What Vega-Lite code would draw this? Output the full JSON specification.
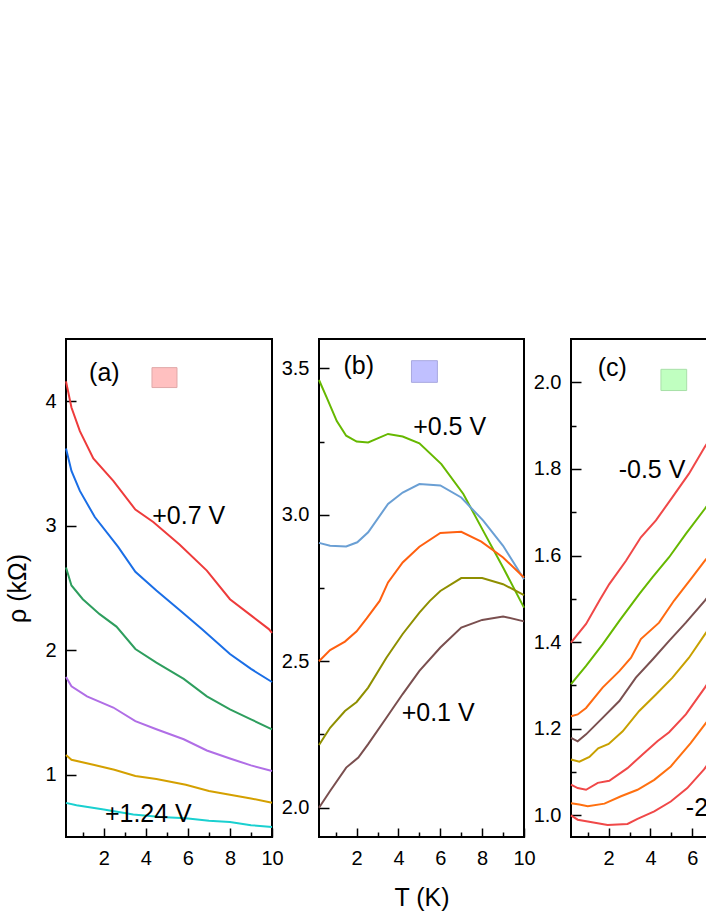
{
  "$schema": "https://vega.github.io/schema/vega-lite/v6.json",
  "padding": {"left": 4, "top": 338, "right": 0, "bottom": 0},
  "background": "white",
  "bounds": "flush",
  "spacing": 47,
  "config": {
    "font": "Liberation Sans",
    "view": {"stroke": "black", "strokeWidth": 2},
    "axis": {
      "domain": false, "grid": false, "labelFlush": false,
      "labelFont": "Liberation Sans", "labelFontSize": 20, "labelColor": "black",
      "titleFont": "Liberation Sans", "titleFontSize": 25, "titleFontWeight": "normal", "titleColor": "black",
      "tickColor": "black", "tickWidth": 1.5
    },
    "text": {"font": "Liberation Sans", "fontSize": 25, "baseline": "middle", "color": "black"}
  },
  "resolve": {"scale": {"color": "independent"}},
  "datasets": {
    "a_lines": [
      {"curve":"a1","T":0.2,"v":4.16},{"curve":"a1","T":0.46,"v":3.95},{"curve":"a1","T":0.86,"v":3.76},{"curve":"a1","T":1.5,"v":3.54},{"curve":"a1","T":2.45,"v":3.36},{"curve":"a1","T":3.5,"v":3.13},{"curve":"a1","T":4.35,"v":3.03},{"curve":"a1","T":5.6,"v":2.85},{"curve":"a1","T":6.9,"v":2.64},{"curve":"a1","T":8.0,"v":2.41},{"curve":"a1","T":9.0,"v":2.28},{"curve":"a1","T":9.85,"v":2.17},{"curve":"a1","T":10,"v":2.14},
      {"curve":"a2","T":0.2,"v":3.62},{"curve":"a2","T":0.46,"v":3.44},{"curve":"a2","T":0.86,"v":3.28},{"curve":"a2","T":1.57,"v":3.07},{"curve":"a2","T":2.68,"v":2.83},{"curve":"a2","T":3.5,"v":2.63},{"curve":"a2","T":4.5,"v":2.48},{"curve":"a2","T":5.63,"v":2.32},{"curve":"a2","T":6.66,"v":2.17},{"curve":"a2","T":8.0,"v":1.97},{"curve":"a2","T":9.0,"v":1.85},{"curve":"a2","T":10,"v":1.745},
      {"curve":"a3","T":0.2,"v":2.665},{"curve":"a3","T":0.46,"v":2.52},{"curve":"a3","T":1.0,"v":2.41},{"curve":"a3","T":1.8,"v":2.29},{"curve":"a3","T":2.6,"v":2.19},{"curve":"a3","T":3.5,"v":2.01},{"curve":"a3","T":4.5,"v":1.9},{"curve":"a3","T":5.8,"v":1.77},{"curve":"a3","T":6.9,"v":1.63},{"curve":"a3","T":8.0,"v":1.525},{"curve":"a3","T":9.0,"v":1.445},{"curve":"a3","T":10,"v":1.365},
      {"curve":"a4","T":0.2,"v":1.785},{"curve":"a4","T":0.46,"v":1.71},{"curve":"a4","T":1.2,"v":1.63},{"curve":"a4","T":2.45,"v":1.54},{"curve":"a4","T":3.5,"v":1.43},{"curve":"a4","T":4.5,"v":1.365},{"curve":"a4","T":5.8,"v":1.285},{"curve":"a4","T":6.9,"v":1.195},{"curve":"a4","T":8.0,"v":1.13},{"curve":"a4","T":9.0,"v":1.075},{"curve":"a4","T":10,"v":1.03},
      {"curve":"a5","T":0.2,"v":1.158},{"curve":"a5","T":0.46,"v":1.12},{"curve":"a5","T":1.5,"v":1.08},{"curve":"a5","T":2.5,"v":1.04},{"curve":"a5","T":3.5,"v":0.99},{"curve":"a5","T":4.5,"v":0.965},{"curve":"a5","T":5.9,"v":0.92},{"curve":"a5","T":7.0,"v":0.87},{"curve":"a5","T":8.0,"v":0.84},{"curve":"a5","T":9.0,"v":0.81},{"curve":"a5","T":10,"v":0.775},
      {"curve":"a6","T":0.2,"v":0.774},{"curve":"a6","T":0.7,"v":0.755},{"curve":"a6","T":2.0,"v":0.72},{"curve":"a6","T":3.4,"v":0.68},{"curve":"a6","T":4.7,"v":0.66},{"curve":"a6","T":5.9,"v":0.65},{"curve":"a6","T":7.0,"v":0.63},{"curve":"a6","T":8.0,"v":0.62},{"curve":"a6","T":9.0,"v":0.595},{"curve":"a6","T":10,"v":0.58}
    ],
    "b_lines": [
      {"curve":"b1","T":0.2,"v":3.46},{"curve":"b1","T":0.57,"v":3.4},{"curve":"b1","T":1.05,"v":3.32},{"curve":"b1","T":1.5,"v":3.27},{"curve":"b1","T":2.0,"v":3.25},{"curve":"b1","T":2.55,"v":3.247},{"curve":"b1","T":3.5,"v":3.276},{"curve":"b1","T":4.2,"v":3.267},{"curve":"b1","T":5.0,"v":3.244},{"curve":"b1","T":6.05,"v":3.173},{"curve":"b1","T":7.1,"v":3.071},{"curve":"b1","T":8.05,"v":2.945},{"curve":"b1","T":9.0,"v":2.82},{"curve":"b1","T":10,"v":2.683},
      {"curve":"b2","T":0.2,"v":2.904},{"curve":"b2","T":0.73,"v":2.894},{"curve":"b2","T":1.5,"v":2.892},{"curve":"b2","T":2.03,"v":2.906},{"curve":"b2","T":2.55,"v":2.94},{"curve":"b2","T":3.5,"v":3.037},{"curve":"b2","T":4.2,"v":3.076},{"curve":"b2","T":5.0,"v":3.105},{"curve":"b2","T":6.0,"v":3.1},{"curve":"b2","T":7.0,"v":3.059},{"curve":"b2","T":8.05,"v":2.98},{"curve":"b2","T":9.0,"v":2.894},{"curve":"b2","T":10,"v":2.78},
      {"curve":"b3","T":0.2,"v":2.5},{"curve":"b3","T":0.73,"v":2.538},{"curve":"b3","T":1.44,"v":2.567},{"curve":"b3","T":2.0,"v":2.602},{"curve":"b3","T":2.48,"v":2.646},{"curve":"b3","T":3.1,"v":2.706},{"curve":"b3","T":3.5,"v":2.769},{"curve":"b3","T":4.2,"v":2.837},{"curve":"b3","T":5.0,"v":2.891},{"curve":"b3","T":6.0,"v":2.938},{"curve":"b3","T":7.0,"v":2.942},{"curve":"b3","T":7.96,"v":2.908},{"curve":"b3","T":9.0,"v":2.854},{"curve":"b3","T":10,"v":2.786},
      {"curve":"b4","T":0.2,"v":2.214},{"curve":"b4","T":0.73,"v":2.273},{"curve":"b4","T":1.44,"v":2.33},{"curve":"b4","T":2.0,"v":2.361},{"curve":"b4","T":2.55,"v":2.41},{"curve":"b4","T":3.43,"v":2.513},{"curve":"b4","T":4.2,"v":2.593},{"curve":"b4","T":5.0,"v":2.666},{"curve":"b4","T":5.5,"v":2.706},{"curve":"b4","T":6.0,"v":2.74},{"curve":"b4","T":7.0,"v":2.784},{"curve":"b4","T":8.0,"v":2.784},{"curve":"b4","T":9.0,"v":2.763},{"curve":"b4","T":10,"v":2.726},
      {"curve":"b5","T":0.2,"v":2.0},{"curve":"b5","T":0.73,"v":2.057},{"curve":"b5","T":1.5,"v":2.137},{"curve":"b5","T":2.08,"v":2.171},{"curve":"b5","T":2.55,"v":2.217},{"curve":"b5","T":3.43,"v":2.308},{"curve":"b5","T":4.2,"v":2.388},{"curve":"b5","T":5.0,"v":2.467},{"curve":"b5","T":6.0,"v":2.547},{"curve":"b5","T":7.0,"v":2.615},{"curve":"b5","T":8.0,"v":2.641},{"curve":"b5","T":9.0,"v":2.653},{"curve":"b5","T":10,"v":2.636}
    ],
    "c_lines": [
      {"curve":"c1","T":0.2,"v":1.399},{"curve":"c1","T":0.92,"v":1.442},{"curve":"c1","T":1.56,"v":1.496},{"curve":"c1","T":2.03,"v":1.534},{"curve":"c1","T":2.83,"v":1.588},{"curve":"c1","T":3.54,"v":1.642},{"curve":"c1","T":4.26,"v":1.681},{"curve":"c1","T":5.05,"v":1.735},{"curve":"c1","T":5.84,"v":1.789},{"curve":"c1","T":6.6,"v":1.851},{"curve":"c1","T":7.0,"v":1.88},
      {"curve":"c2","T":0.2,"v":1.303},{"curve":"c2","T":0.92,"v":1.345},{"curve":"c2","T":1.71,"v":1.395},{"curve":"c2","T":2.51,"v":1.449},{"curve":"c2","T":3.46,"v":1.511},{"curve":"c2","T":4.1,"v":1.55},{"curve":"c2","T":4.89,"v":1.596},{"curve":"c2","T":5.69,"v":1.65},{"curve":"c2","T":6.6,"v":1.708},{"curve":"c2","T":7.0,"v":1.735},
      {"curve":"c3","T":0.2,"v":1.229},{"curve":"c3","T":0.52,"v":1.233},{"curve":"c3","T":0.92,"v":1.248},{"curve":"c3","T":1.71,"v":1.295},{"curve":"c3","T":2.51,"v":1.333},{"curve":"c3","T":3.07,"v":1.364},{"curve":"c3","T":3.54,"v":1.407},{"curve":"c3","T":4.41,"v":1.445},{"curve":"c3","T":5.13,"v":1.496},{"curve":"c3","T":6.0,"v":1.55},{"curve":"c3","T":6.6,"v":1.588},{"curve":"c3","T":7.0,"v":1.613},
      {"curve":"c4","T":0.2,"v":1.179},{"curve":"c4","T":0.52,"v":1.171},{"curve":"c4","T":0.92,"v":1.187},{"curve":"c4","T":1.71,"v":1.225},{"curve":"c4","T":2.51,"v":1.264},{"curve":"c4","T":3.3,"v":1.318},{"curve":"c4","T":4.1,"v":1.36},{"curve":"c4","T":4.89,"v":1.403},{"curve":"c4","T":5.69,"v":1.445},{"curve":"c4","T":6.6,"v":1.496},{"curve":"c4","T":7.0,"v":1.52},
      {"curve":"c5","T":0.2,"v":1.129},{"curve":"c5","T":0.6,"v":1.124},{"curve":"c5","T":1.08,"v":1.135},{"curve":"c5","T":1.5,"v":1.155},{"curve":"c5","T":2.0,"v":1.165},{"curve":"c5","T":2.67,"v":1.194},{"curve":"c5","T":3.46,"v":1.241},{"curve":"c5","T":4.26,"v":1.279},{"curve":"c5","T":5.05,"v":1.318},{"curve":"c5","T":5.84,"v":1.364},{"curve":"c5","T":6.6,"v":1.418},{"curve":"c5","T":7.0,"v":1.445},
      {"curve":"c6","T":0.2,"v":1.071},{"curve":"c6","T":0.52,"v":1.063},{"curve":"c6","T":0.92,"v":1.059},{"curve":"c6","T":1.48,"v":1.075},{"curve":"c6","T":2.03,"v":1.08},{"curve":"c6","T":2.9,"v":1.109},{"curve":"c6","T":3.7,"v":1.144},{"curve":"c6","T":4.33,"v":1.171},{"curve":"c6","T":4.89,"v":1.192},{"curve":"c6","T":5.69,"v":1.233},{"curve":"c6","T":6.6,"v":1.295},{"curve":"c6","T":7.0,"v":1.325},
      {"curve":"c7","T":0.2,"v":1.028},{"curve":"c7","T":0.6,"v":1.025},{"curve":"c7","T":1.0,"v":1.021},{"curve":"c7","T":1.8,"v":1.027},{"curve":"c7","T":2.59,"v":1.044},{"curve":"c7","T":3.38,"v":1.059},{"curve":"c7","T":4.18,"v":1.082},{"curve":"c7","T":4.97,"v":1.113},{"curve":"c7","T":5.92,"v":1.167},{"curve":"c7","T":6.6,"v":1.21},{"curve":"c7","T":7.0,"v":1.235},
      {"curve":"c8","T":0.2,"v":1.0},{"curve":"c8","T":0.52,"v":0.99},{"curve":"c8","T":1.0,"v":0.986},{"curve":"c8","T":1.95,"v":0.978},{"curve":"c8","T":2.9,"v":0.98},{"curve":"c8","T":3.38,"v":0.992},{"curve":"c8","T":4.18,"v":1.009},{"curve":"c8","T":4.97,"v":1.032},{"curve":"c8","T":5.76,"v":1.063},{"curve":"c8","T":6.56,"v":1.106},{"curve":"c8","T":7.0,"v":1.135}
    ],
    "a_text": [
      {"label":"(a)","T":1.3,"v":4.23},{"label":"+0.7 V","T":4.3,"v":3.075},{"label":"+1.24 V","T":2.05,"v":0.684}
    ],
    "b_text": [
      {"label":"(b)","T":1.37,"v":3.509},{"label":"+0.5 V","T":4.7,"v":3.298},{"label":"+0.1 V","T":4.15,"v":2.325}
    ],
    "c_text": [
      {"label":"(c)","T":1.48,"v":2.032},{"label":"-0.5 V","T":2.48,"v":1.797},{"label":"-2.0 V","T":5.69,"v":1.017}
    ],
    "a_box": [{"T":4.29,"T2":5.48,"v":4.11,"v2":4.27}],
    "b_box": [{"T":4.62,"T2":5.86,"v":3.452,"v2":3.526}],
    "c_box": [{"T":4.5,"T2":5.73,"v":1.981,"v2":2.03}]
  },
  "hconcat": [
    {
      "width": 206, "height": 498,
      "encoding": {
        "x": {"field": "T", "type": "quantitative", "scale": {"domain": [0.2, 10], "nice": false, "zero": false},
          "axis": {"title": null, "values": [1,2,3,4,5,6,7,8,9,10], "format": "d", "labelExpr": "datum.value % 2 === 0 ? datum.label : ''", "tickSize": {"condition": {"test": "datum.value % 2 === 0", "value": -9}, "value": -5}, "labelPadding": 20}},
        "y": {"field": "v", "type": "quantitative", "scale": {"domain": [0.5, 4.5], "nice": false, "zero": false},
          "axis": {"title": "ρ (kΩ)", "titlePadding": 14, "values": [1,1.5,2,2.5,3,3.5,4], "format": "d", "labelExpr": "datum.value % 1 === 0 ? datum.label : ''", "tickSize": {"condition": {"test": "datum.value % 1 === 0", "value": -10}, "value": -5}, "labelPadding": 20}}
      },
      "layer": [
        {
          "data": {"name": "a_lines"},
          "mark": {"type": "line", "strokeWidth": 2},
          "encoding": {
            "color": {"field": "curve", "type": "nominal", "legend": null,
              "scale": {"domain": ["a1","a2","a3","a4","a5","a6"], "range": ["#ee3b3b","#1a6ee6","#2e9e5e","#b06ee6","#d4a000","#1ad0d0"]}}
          }
        },
        {
          "data": {"name": "a_text"},
          "mark": {"type": "text", "align": "left"},
          "encoding": {"text": {"field": "label"}}
        },
        {
          "data": {"name": "a_box"},
          "mark": {"type": "rect", "fill": "#ffc0c0", "stroke": "#e0a8a8", "strokeWidth": 1},
          "encoding": {"x2": {"field": "T2"}, "y2": {"field": "v2"}}
        }
      ]
    },
    {
      "width": 205, "height": 498,
      "encoding": {
        "x": {"field": "T", "type": "quantitative", "scale": {"domain": [0.2, 10], "nice": false, "zero": false},
          "axis": {"title": "T (K)", "titlePadding": 17, "values": [1,2,3,4,5,6,7,8,9,10], "format": "d", "labelExpr": "datum.value % 2 === 0 ? datum.label : ''", "tickSize": {"condition": {"test": "datum.value % 2 === 0", "value": -9}, "value": -5}, "labelPadding": 20}},
        "y": {"field": "v", "type": "quantitative", "scale": {"domain": [1.9, 3.6], "nice": false, "zero": false},
          "axis": {"title": null, "values": [2,2.25,2.5,2.75,3,3.25,3.5], "format": ".1f", "labelExpr": "abs(datum.value*2 - round(datum.value*2)) < 0.01 ? datum.label : ''", "tickSize": {"condition": {"test": "abs(datum.value*2 - round(datum.value*2)) < 0.01", "value": -10}, "value": -5}, "labelPadding": 20}}
      },
      "layer": [
        {
          "data": {"name": "b_lines"},
          "mark": {"type": "line", "strokeWidth": 2},
          "encoding": {
            "color": {"field": "curve", "type": "nominal", "legend": null,
              "scale": {"domain": ["b1","b2","b3","b4","b5"], "range": ["#66b800","#6a9fd4","#ff6010","#8f8f00","#7a4f4f"]}}
          }
        },
        {
          "data": {"name": "b_text"},
          "mark": {"type": "text", "align": "left"},
          "encoding": {"text": {"field": "label"}}
        },
        {
          "data": {"name": "b_box"},
          "mark": {"type": "rect", "fill": "#c0c0ff", "stroke": "#a8a8e0", "strokeWidth": 1},
          "encoding": {"x2": {"field": "T2"}, "y2": {"field": "v2"}}
        }
      ]
    },
    {
      "width": 205, "height": 498,
      "encoding": {
        "x": {"field": "T", "type": "quantitative", "scale": {"domain": [0.2, 10], "nice": false, "zero": false},
          "axis": {"title": null, "values": [1,2,3,4,5,6,7,8,9,10], "format": "d", "labelExpr": "datum.value % 2 === 0 ? datum.label : ''", "tickSize": {"condition": {"test": "datum.value % 2 === 0", "value": -9}, "value": -5}, "labelPadding": 20}},
        "y": {"field": "v", "type": "quantitative", "scale": {"domain": [0.95, 2.1], "nice": false, "zero": false},
          "axis": {"title": null, "values": [1,1.1,1.2,1.3,1.4,1.5,1.6,1.7,1.8,1.9,2], "format": ".1f", "labelExpr": "round(datum.value*10) % 2 === 0 ? datum.label : ''", "tickSize": {"condition": {"test": "round(datum.value*10) % 2 === 0", "value": -10}, "value": -5}, "labelPadding": 20}}
      },
      "layer": [
        {
          "data": {"name": "c_lines"},
          "mark": {"type": "line", "strokeWidth": 2},
          "encoding": {
            "color": {"field": "curve", "type": "nominal", "legend": null,
              "scale": {"domain": ["c1","c2","c3","c4","c5","c6","c7","c8"], "range": ["#f04848","#66b800","#ff6a10","#7a5050","#c8a000","#f04848","#ff7010","#f04848"]}}
          }
        },
        {
          "data": {"name": "c_text"},
          "mark": {"type": "text", "align": "left"},
          "encoding": {"text": {"field": "label"}}
        },
        {
          "data": {"name": "c_box"},
          "mark": {"type": "rect", "fill": "#c0ffc0", "stroke": "#a8e0a8", "strokeWidth": 1},
          "encoding": {"x2": {"field": "T2"}, "y2": {"field": "v2"}}
        }
      ]
    }
  ]
}
